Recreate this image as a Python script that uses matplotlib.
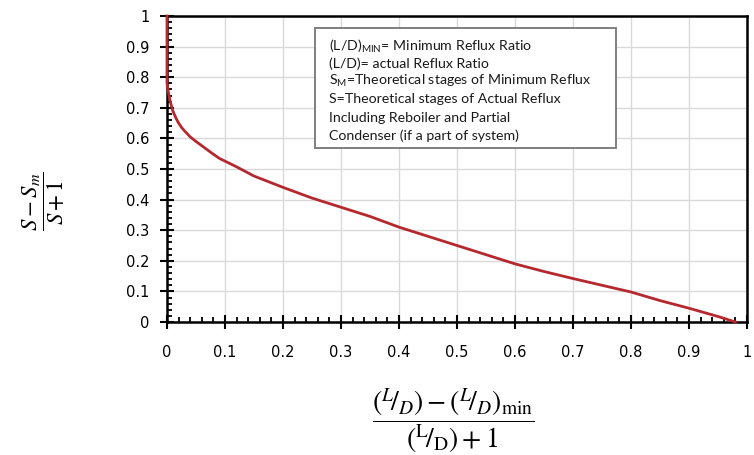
import matplotlib
matplotlib.use("Agg")
import matplotlib.pyplot as plt
from matplotlib.ticker import MultipleLocator, FuncFormatter
from matplotlib.patches import Rectangle

# Data (Gilliland-type correlation)
x_vals = [0.0, 0.0, 0.002, 0.005, 0.01, 0.015, 0.02, 0.025, 0.03, 0.04, 0.05, 0.06,
          0.075, 0.09, 0.12, 0.15, 0.2, 0.25, 0.3, 0.35, 0.4, 0.45, 0.5, 0.55,
          0.6, 0.65, 0.7, 0.75, 0.8, 0.85, 0.9, 0.95, 0.98]
y_vals = [1.0, 0.78, 0.755, 0.725, 0.69, 0.668, 0.65, 0.636, 0.625, 0.605, 0.59, 0.576,
          0.555, 0.535, 0.507, 0.477, 0.44, 0.405, 0.375, 0.345, 0.31, 0.28, 0.25, 0.22,
          0.19, 0.165, 0.142, 0.12, 0.098, 0.07, 0.045, 0.018, 0.0]

note_lines = [
    r"(L/D)$_{\mathrm{MIN}}$= Minimum Reflux Ratio",
    "(L/D)= actual Reflux Ratio",
    r"S$_{\mathrm{M}}$=Theoretical stages of Minimum Reflux",
    "S=Theoretical stages of Actual Reflux",
    "Including Reboiler and Partial",
    "Condenser (if a part of system)",
]

plt.rcParams['mathtext.fontset'] = 'custom'
plt.rcParams['mathtext.rm'] = 'Lato'
plt.rcParams['mathtext.it'] = 'Lato:italic'
plt.rcParams['mathtext.bf'] = 'Lato:bold'

fig = plt.figure(figsize=(7.54, 4.55), dpi=100)
ax = fig.add_axes([167/754, 1-322/455, 580/754, 306/455])

ax.plot(x_vals, y_vals, color='#b5282e', lw=2.0, zorder=5, clip_on=False)

ax.set_xlim(0, 1)
ax.set_ylim(0, 1)
ax.xaxis.set_major_locator(MultipleLocator(0.1))
ax.yaxis.set_major_locator(MultipleLocator(0.1))
ax.xaxis.set_minor_locator(MultipleLocator(0.02))
ax.yaxis.set_minor_locator(MultipleLocator(0.02))
fmt = FuncFormatter(lambda v, p: ('%g' % round(v, 2)))
ax.xaxis.set_major_formatter(fmt)
ax.yaxis.set_major_formatter(fmt)

ax.grid(True, which='major', color='#d9d9d9', lw=1.0, zorder=0)
ax.set_axisbelow(True)
for s in ax.spines.values():
    s.set_linewidth(1.8)
    s.set_color('black')

ax.tick_params(which='major', direction='inout', length=9.5, width=1.5,
               labelsize=10.5, color='black')
ax.tick_params(axis='x', which='major', pad=12)
ax.tick_params(axis='y', which='major', pad=8)
ax.tick_params(which='minor', direction='in', length=3.8, width=1.3, color='black')

# note box
bx0, bx1 = (315-167)/580, (616-167)/580
by0, by1 = (322-148)/306, (322-28)/306
ax.add_patch(Rectangle((bx0, by0), bx1-bx0, by1-by0, transform=ax.transAxes,
                       facecolor='white', edgecolor='#7f7f7f', lw=1.4, zorder=6))
line_y = [46, 63.5, 81, 99, 117.5, 135.5]
for txt, py in zip(note_lines, line_y):
    ax.text((329-167)/580, (322-py)/306, txt, transform=ax.transAxes,
            fontsize=10.2, family='Lato', va='center', ha='left', zorder=7,
            color='#1a1a1a')

# axis labels as math fractions
fig.text(44/754, 1-201/455, r'$\dfrac{S-S_m}{S+1}$', rotation=90,
         fontsize=16.5, ha='center', va='center', math_fontfamily='stix')
fig.text(453/754, 1-421/455,
         r'$\dfrac{(^{L}\!/_{D}) - (^{L}\!/_{D})_{\mathrm{min}}}{(^{\mathrm{L}}\!/_{\mathrm{D}}) + 1}$',
         fontsize=20, ha='center', va='center', math_fontfamily='stix')

fig.savefig('out.png', dpi=100)
